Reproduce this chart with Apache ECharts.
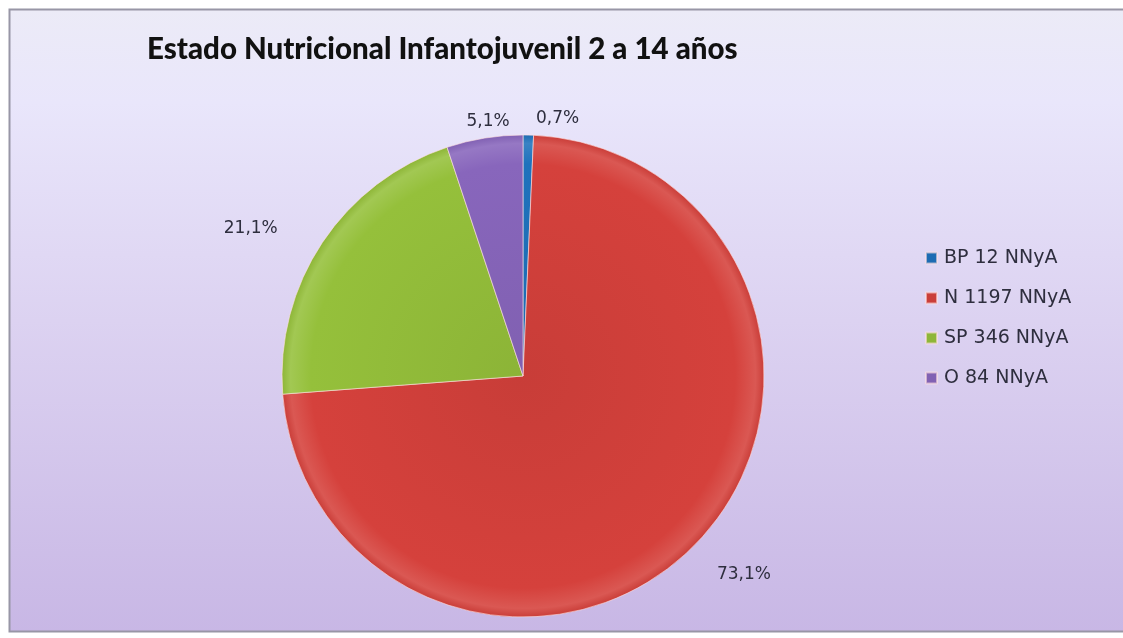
<!DOCTYPE html>
<html>
<head>
<meta charset="utf-8">
<script src="https://cdn.jsdelivr.net/npm/echarts@6/dist/echarts.min.js"></script>
<style>
  html, body { margin: 0; padding: 0; background: #ffffff; }
  #chart { width: 1123px; height: 638px; }
</style>
</head>
<body>
<div id="chart"></div>
<script>
// Nutritional status of children and adolescents aged 2–14 (share of NNyA, %)
const categories = ['BP 12 NNyA', 'N 1197 NNyA', 'SP 346 NNyA', 'O 84 NNyA'];
const shares = [0.7, 73.1, 21.1, 5.1];
const sliceColors = ['#1F72BC', '#D5413C', '#95C03B', '#8866BC'];
const titleText = 'Estado Nutricional Infantojuvenil 2 a 14 años';

// Pie geometry
const CX = 523, CY = 376, R = 241, START = 90;
// small per-label nudges (px) applied after the radial placement
const labelNudge = [[29, -1], [12, -4], [-26, 17], [7, 5]];

function shade(hex, amt) {
  const n = parseInt(hex.slice(1), 16);
  const r = (n >> 16) & 255, g = (n >> 8) & 255, b = n & 255;
  const f = v => Math.max(0, Math.min(255, Math.round(amt >= 0 ? v + (255 - v) * amt : v * (1 + amt))));
  return 'rgb(' + f(r) + ',' + f(g) + ',' + f(b) + ')';
}

// mid-angle (radians, math convention) of each slice, clockwise from the top
const total = shares.reduce((a, b) => a + b, 0);
const midAngles = [];
{
  let acc = 0;
  shares.forEach(v => {
    const mid = acc + v / 2;
    midAngles.push((START - mid / total * 360) * Math.PI / 180);
    acc += v;
  });
}

const chart = echarts.init(document.getElementById('chart'), null, { renderer: 'canvas' });

const data = categories.map((name, i) => ({
  name: name,
  value: shares[i],
  itemStyle: {
    color: {
      type: 'radial', x: CX, y: CY, r: R, global: true,
      colorStops: [
        { offset: 0, color: shade(sliceColors[i], -0.06) },
        { offset: 0.88, color: sliceColors[i] },
        { offset: 0.965, color: shade(sliceColors[i], 0.12) },
        { offset: 1, color: shade(sliceColors[i], -0.05) }
      ]
    }
  }
}));

chart.setOption({
  backgroundColor: '#ffffff',
  animation: false,
  graphic: [{
    type: 'rect',
    z: -10,
    shape: { x: 9.5, y: 9.5, width: 1130, height: 622 },
    style: {
      fill: {
        type: 'linear', x: 0, y: 0, x2: 0, y2: 1,
        colorStops: [
          { offset: 0, color: '#ECEBF7' },
          { offset: 0.15, color: '#E9E6FB' },
          { offset: 0.5, color: '#DCD2F1' },
          { offset: 1, color: '#C8B7E5' }
        ]
      },
      stroke: '#9896A6',
      lineWidth: 2
    }
  }],
  title: {
    text: titleText,
    left: 142,
    top: 29,
    textStyle: {
      fontFamily: 'Lato',
      fontWeight: 900,
      fontSize: 29.5,
      color: '#111111'
    }
  },
  legend: {
    orient: 'vertical',
    left: 920,
    top: 243,
    itemWidth: 11,
    itemHeight: 11,
    itemGap: 20,
    icon: 'rect',
    data: categories,
    textStyle: {
      fontFamily: 'DejaVu Sans',
      fontSize: 19,
      lineHeight: 20,
      color: '#2e2e3e',
      padding: [0, 0, 0, 2]
    }
  },
  series: [{
    type: 'pie',
    center: [CX, CY],
    radius: ['0%', R],
    startAngle: START,
    clockwise: true,
    avoidLabelOverlap: false,
    itemStyle: {
      borderColor: 'rgba(255,225,225,0.6)',
      borderWidth: 1
    },
    label: {
      show: true,
      position: 'outside',
      formatter: p => p.value.toFixed(1).replace('.', ',') + '%',
      fontFamily: 'DejaVu Sans',
      fontSize: 17,
      color: '#2e2e3e'
    },
    labelLine: { show: false },
    // labels sit outside the rim, along each slice's mid-angle
    labelLayout: function (params) {
      const i = params.dataIndex;
      const a = midAngles[i];
      const w = params.labelRect.width, h = params.labelRect.height;
      const ext = Math.abs(Math.cos(a)) * w / 2 + Math.abs(Math.sin(a)) * h / 2;
      const gap = 6 + 26 * Math.abs(Math.cos(a));
      const d = R + gap + ext;
      return {
        x: CX + Math.cos(a) * d + labelNudge[i][0],
        y: CY - Math.sin(a) * d + labelNudge[i][1],
        align: 'center',
        verticalAlign: 'middle'
      };
    },
    data: data
  }]
});
</script>
</body>
</html>
